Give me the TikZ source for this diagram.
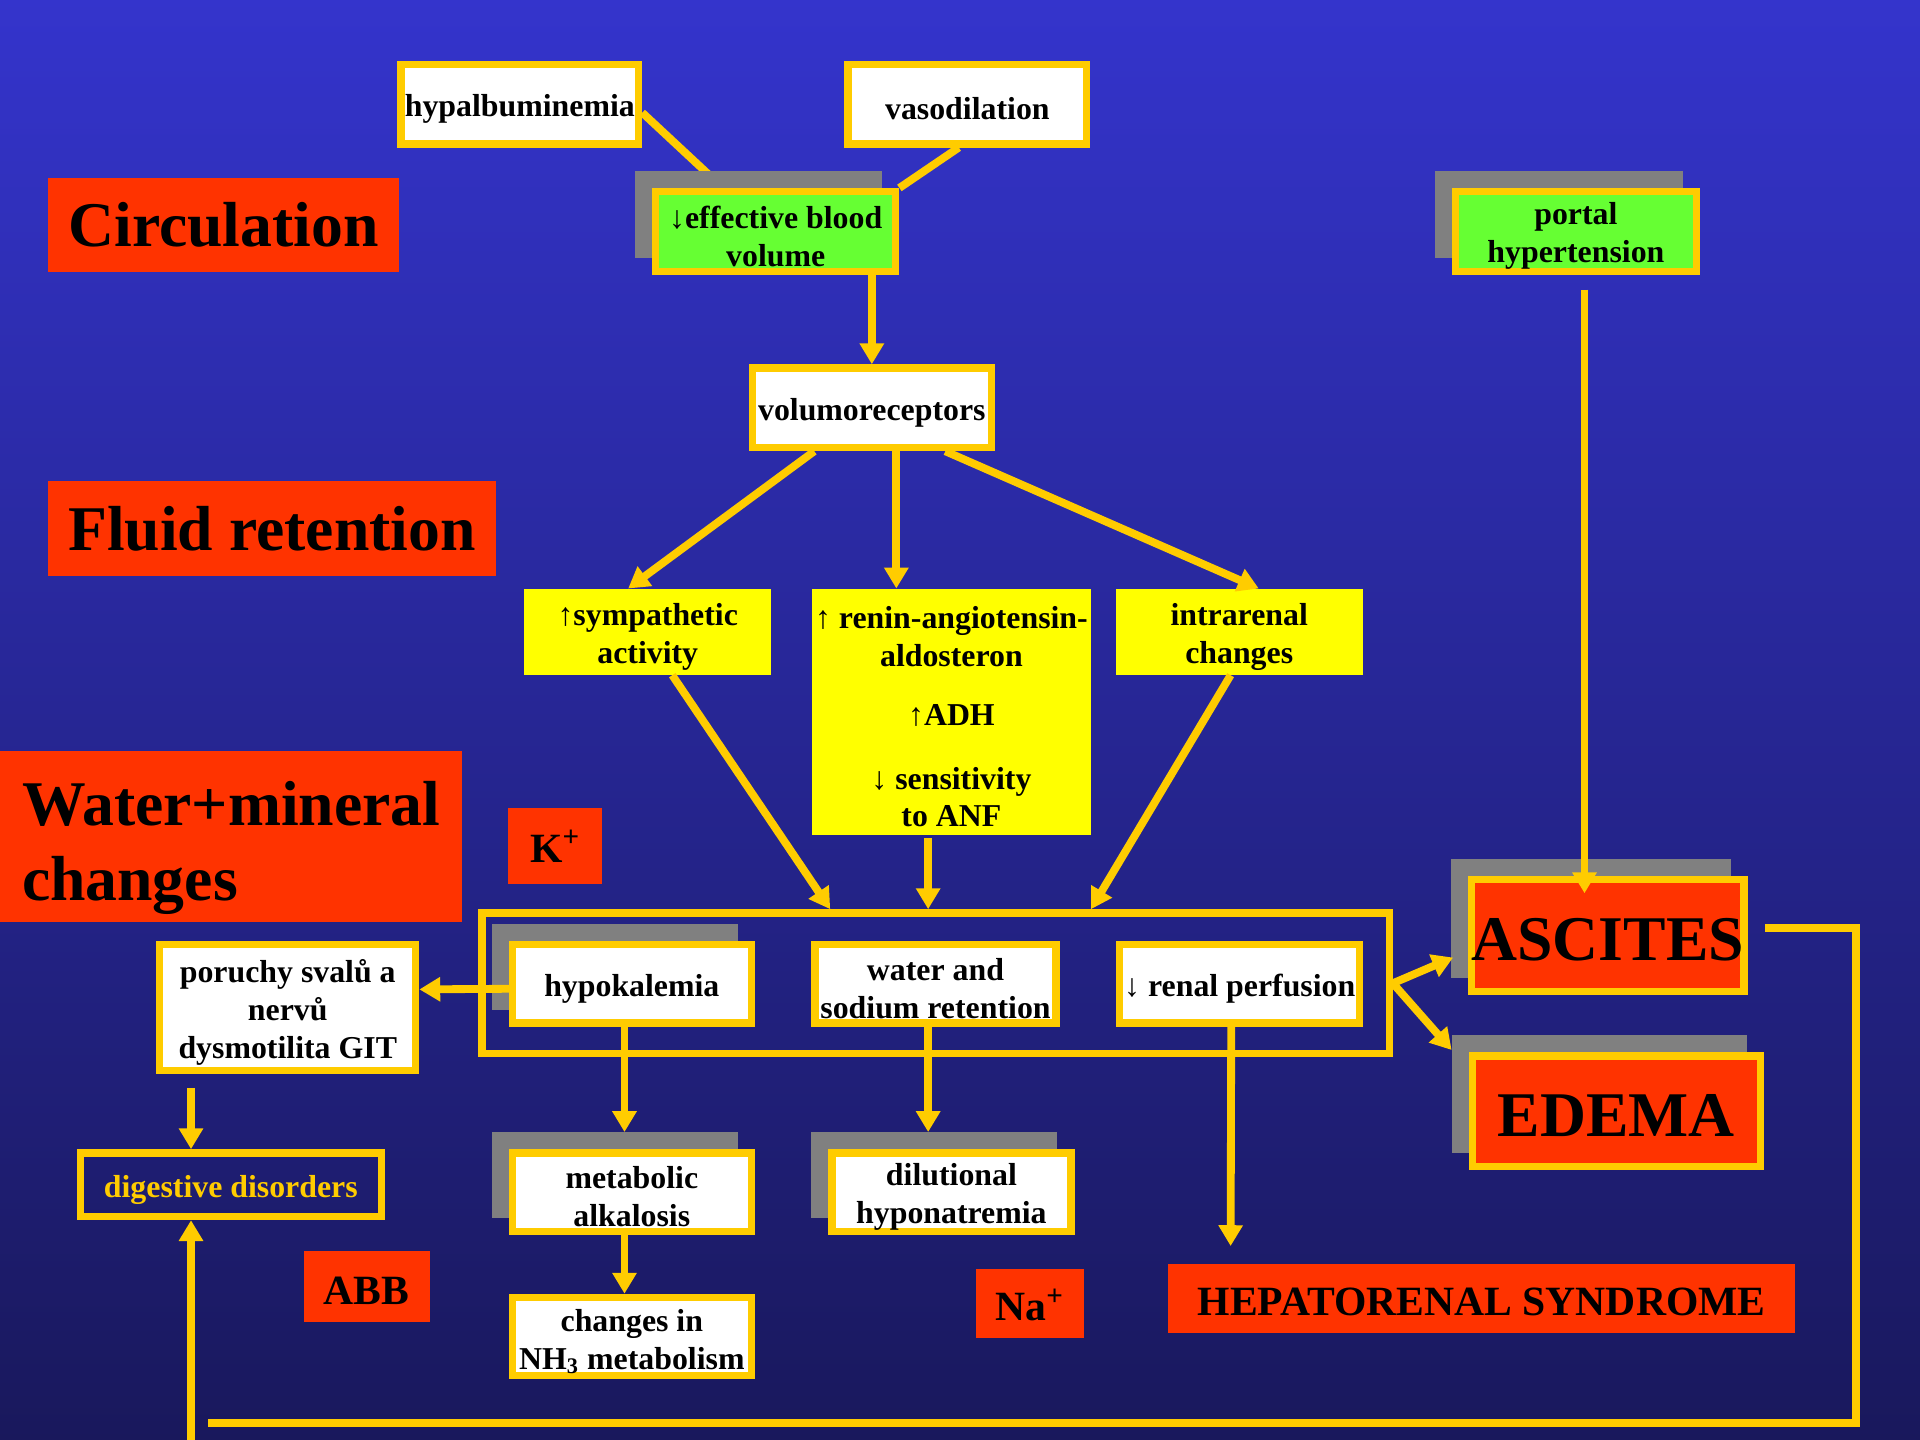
\documentclass[tikz,border=0pt]{standalone}
\usepackage{fontspec}
\setmainfont{Liberation Serif}
\usetikzlibrary{arrows.meta,calc,shadows}

\definecolor{bgtop}{RGB}{52,52,204}
\definecolor{bgbot}{RGB}{25,24,92}
\definecolor{gold}{RGB}{255,204,0}
\definecolor{lblred}{RGB}{255,51,0}
\definecolor{leaf}{RGB}{102,255,51}
\definecolor{lemon}{RGB}{255,255,0}
\definecolor{shgray}{RGB}{128,128,128}

\pgfdeclarelayer{back}
\pgfsetlayers{back,main}

\newcommand{\arup}{{\mdseries ↑}}
\newcommand{\ardn}{{\mdseries ↓}}
% strut that sets the height of the first text line in a box
\newcommand{\topst}{\rule{0pt}{13pt}}

\tikzset{
  wh/.style 2 args={minimum width=#1*0.5pt, minimum height=#2*0.5pt},
  base/.style={inner sep=0pt, align=center, font=\fontsize{13}{15.5}\selectfont\bfseries},
  framed/.style={base, draw=gold, line width=3pt},
  whitebox/.style={framed, fill=white},
  greenbox/.style={framed, fill=leaf},
  yellowbox/.style={base, fill=lemon},
  redbox/.style={inner sep=0pt, align=center},
  bigred/.style={redbox, fill=lblred, font=\fontsize{26}{31}\selectfont\bfseries},
  midred/.style={redbox, fill=lblred, font=\fontsize{17}{20}\selectfont\bfseries},
  outcome/.style={inner sep=0pt, draw=gold, line width=3pt, fill=lblred,
    font=\fontsize{26}{31}\selectfont\bfseries},
  shade/.style={shadow xshift=-7pt, shadow yshift=7pt,
    general shadow={fill=shgray, draw=shgray, line width=3pt}},
  conn/.style={draw=gold, line width=3.2pt},
  arr/.style={conn, -{Triangle[length=8.5pt,width=9.5pt]}},
}

\begin{document}
\begin{tikzpicture}[x=0.5pt, y=-0.5pt]
\useasboundingbox (0,0) rectangle (1568,1176);
\begin{pgfonlayer}{back}
  \shade[top color=bgtop, bottom color=bgbot] (0,0) rectangle (1568,1176);
\end{pgfonlayer}

% section labels
\node[bigred, wh={287}{77}] (circ) at (182.5,183.5) {Circulation};
\node[bigred, wh={366}{77}] (fluid) at (222,431.5) {Fluid retention};
\node[bigred, wh={377}{140}, align=left, text width=170.5pt, inner xsep=9pt] (wmc) at (188.5,683)
  {\rule{0pt}{27.5pt}Water+mineral\\changes};
\node[midred, wh={77}{62}] (kplus) at (453.5,691) {K\textsuperscript{+}};
\node[midred, wh={103}{58}] (abb) at (299.5,1051) {\rule{0pt}{14pt}ABB};
\node[midred, wh={88}{57}] (naplus) at (841,1064.5) {\rule{0pt}{14pt}Na\textsuperscript{+}};

% circulation
\node[whitebox, wh={194}{65}] (hyp) at (424.5,85) {\topst hypalbuminemia};
\node[whitebox, wh={195}{65}] (vas) at (790,85) {\topst vasodilation};
\node[greenbox, shade, wh={196}{65}] (ebv) at (633.5,189) {\topst\ardn effective blood\\volume};
\node[greenbox, shade, wh={197}{65}] (port) at (1287,189) {\topst portal\\hypertension};
\node[whitebox, wh={195}{65}] (vol) at (712,333) {\topst volumoreceptors};

% fluid retention
\node[yellowbox, wh={202}{70}] (symp) at (529,516) {\topst\arup sympathetic\\activity};
\node[yellowbox, wh={228}{201}] (ren) at (777,581.5)
  {\topst\arup{} renin-angiotensin-\\aldosteron\\[8.5pt]\arup ADH\\[10.5pt]\ardn{} sensitivity\\to ANF};
\node[yellowbox, wh={202}{70}] (intra) at (1012,516) {\topst intrarenal\\changes};

% water and mineral changes
\node[framed, wh={741}{115}] (frame) at (764,803) {};
\node[whitebox, shade, wh={195}{64}] (hypo) at (516,803.5) {\topst hypokalemia};
\node[whitebox, wh={197}{64}] (water) at (764,803.5) {\topst water and\\sodium retention};
\node[whitebox, wh={196}{64}] (renal) at (1012.5,803.5) {\topst\ardn{} renal perfusion};
\node[whitebox, wh={209}{103}] (por) at (235,823) {\topst poruchy svalů a\\nervů\\dysmotilita GIT};
\node[framed, text=gold, wh={246}{52}] (dig) at (188.5,967.5) {\topst digestive disorders};
\node[whitebox, shade, wh={195}{64}] (metab) at (516,973.5) {\topst metabolic\\alkalosis};
\node[whitebox, shade, wh={195}{64}] (dil) at (777,973.5) {\topst dilutional\\hyponatremia};
\node[whitebox, wh={195}{64}] (nh3) at (516,1091.5) {\topst changes in\\NH\textsubscript{3} metabolism};

% outcomes
\node[outcome, shade, wh={221}{91}] (asc) at (1313,764) {\rule{0pt}{21pt}ASCITES};
\node[outcome, shade, wh={235}{90}] (ede) at (1320,907.5) {\rule{0pt}{21pt}EDEMA};
\node[midred, wh={512}{57}] (hrs) at (1210,1060.5) {\rule{0pt}{14pt}HEPATORENAL SYNDROME};

% loop back from ascites
\coordinate (loopR) at (1516,758);
\coordinate (loopB) at (1516,1162);
\coordinate (loopL) at (170,1162);
\coordinate (loopS) at (156,1176);

% causes of reduced effective volume (run behind the shadow)
\begin{pgfonlayer}{back}
  \draw[conn] ($(hyp.east)+(0,7)$) -- ($(ebv.north west)+(58,0)$);
  \draw[conn] ($(vas.south)+(-7,0)$) -- (ebv.north east);
\end{pgfonlayer}

\draw[arr] (ebv.south -| vol.north) -- (vol.north);
\draw[arr] ($(vol.south)+(-47,0)$) -- ($(symp.north)+(-16,0)$);
\draw[arr] ($(vol.south)+(20,0)$) -- ($(ren.north)+(-45,0)$);
\draw[arr] ($(vol.south)+(60,0)$) -- ($(intra.north)+(16,0)$);

\draw[arr] ($(symp.south)+(20,0)$) -- ($(frame.north)+(-86,0)$);
\draw[arr] ($(ren.south)+(-19,2)$) -- ($(frame.north)+(-6,0)$);
\draw[arr] ($(intra.south)+(-7,0)$) -- ($(frame.north)+(127,0)$);

\draw[arr] ($(hypo.west)+(0,4)$) -- ($(por.east)+(0,-15)$);
\draw[arr] ($(dig.north)+(-32.5,-50)$) -- ($(dig.north)+(-32.5,0)$);
\draw[arr] ($(hypo.south)+(-6,0)$) -- ($(metab.north)+(-6,-14)$);
\draw[arr] ($(water.south)+(-6,0)$) -- ($(dil.north)+(-19,-14)$);
\draw[arr] ($(metab.south)+(-6,0)$) -- ($(nh3.north)+(-6,0)$);
\draw[arr] ($(renal.south)+(-7,0)$) -- ($(hrs.north)+(-205,-14)$);

\draw[arr] (frame.east) -- ($(asc.west)+(-12,18)$);
\draw[arr] (frame.east) -- ($(ede.north west)+(-14,-2)$);
\draw[arr] ($(port.south)+(7,12)$) -- ($(asc.north)+(-19,14)$);

\draw[conn] ($(asc.east)+(14.5,-6)$) -- (loopR) -- (loopB) -- (loopL);
\draw[arr] (loopS) -- (dig.south -| loopS);
\end{tikzpicture}
\end{document}
